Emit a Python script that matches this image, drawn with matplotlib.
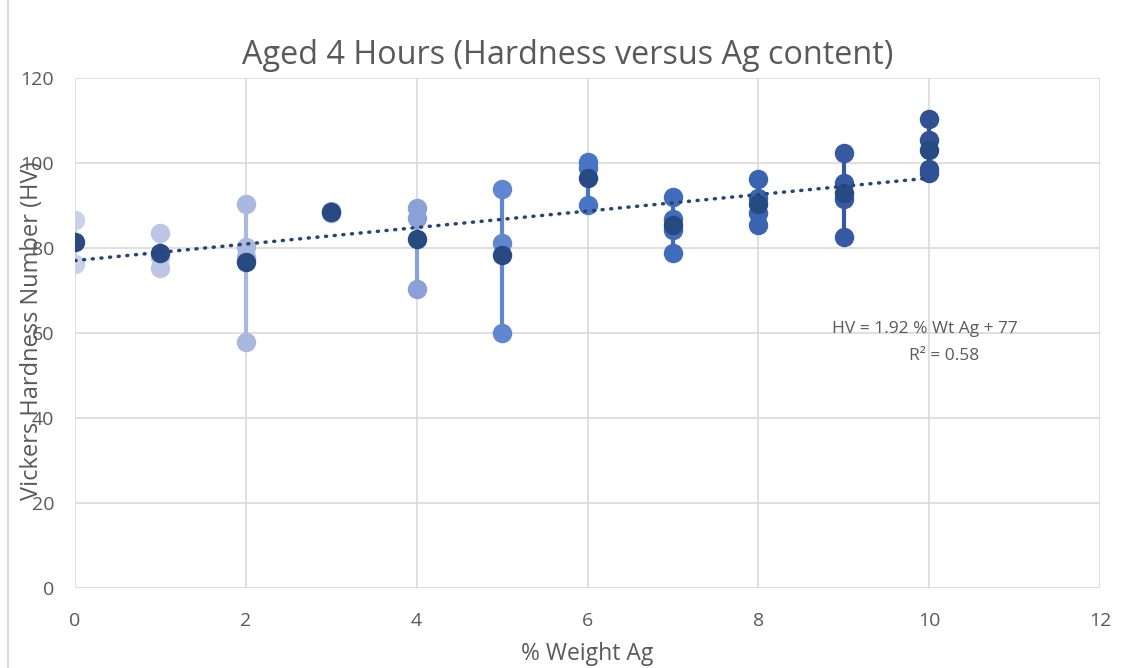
import numpy as np
import matplotlib
matplotlib.use('Agg')
import matplotlib.pyplot as plt
from matplotlib.lines import Line2D

plt.rcParams['font.family'] = ['Open Sans', 'DejaVu Sans']

# hardness readings per Ag content
ag_pct = [0, 1, 2, 3, 4, 5, 6, 7, 8, 9, 10]
hv_readings = [
    [86.5, 76.3],
    [83.5, 78.0, 75.2],
    [90.4, 80.3, 78.0, 57.9],
    [88.8, 88.2],
    [89.3, 87.0, 70.3],
    [94.0, 81.2, 60.1],
    [100.2, 98.8, 90.1],
    [92.1, 86.8, 84.2, 78.8],
    [96.2, 91.8, 88.2, 85.4],
    [102.4, 95.2, 91.5, 82.7],
    [110.4, 105.4, 98.5, 97.7],
]
group_colors = ['#c9d1e9', '#bcc6e4', '#aab8df', '#9aace0', '#8ba0d6', '#5f86cf',
                '#4874c6', '#416cbb', '#3b64b0', '#3659a1', '#305194']
mean_color = '#284a82'

fig = plt.figure(figsize=(11.21, 6.68), dpi=100)
ax = fig.add_axes([0.0669, 0.1198, 0.9144, 0.7634])

means = []
for x, vals, c in zip(ag_pct, hv_readings, group_colors):
    v = sorted(vals)
    ax.plot([x] * len(v), v, '-o', color=c, lw=3, ms=13, zorder=3)
    m = np.mean(vals)
    means.append(m)
    ax.plot([x], [m], 'o', color=mean_color, ms=13, zorder=4)

slope, icpt = np.polyfit(ag_pct, means, 1)
xt = np.array([0, 10])
ax.plot(xt, slope * xt + icpt, color='#264478', lw=2.5,
        linestyle=(0, (0.3, 2.2)), dash_capstyle='round', zorder=5)

ax.text(9.95, 61.0, 'HV = 1.92 % Wt Ag + 77', ha='center', va='center',
        fontsize=12.5, color='#595959')
ax.text(10.18, 54.5, 'R² = 0.58', ha='center', va='center',
        fontsize=12.5, color='#595959')

ax.set_xlim(0, 12)
ax.set_ylim(0, 120)
ax.set_xticks(range(0, 13, 2))
ax.set_yticks(range(0, 121, 20))
ax.grid(True, color='#d9d9d9', lw=1.2)
ax.set_axisbelow(True)
for s in ax.spines.values():
    s.set_visible(False)
ax.tick_params(length=0, labelsize=14, colors='#595959')
ax.tick_params(axis='x', pad=17)
ax.tick_params(axis='y', pad=15)

ax.set_title('Aged 4 Hours (Hardness versus Ag content)', fontsize=23.3,
             color='#595959', pad=10, x=0.481)
ax.set_xlabel('% Weight Ag', fontsize=16.5, color='#595959', labelpad=9)
fig.text(0.0285, 0.505, 'Vickers Hardness Number (HV)', rotation=90,
         ha='center', va='center', fontsize=17, color='#595959')

# chart area border on the left
fig.add_artist(Line2D([0.0075, 0.0075], [0, 1], transform=fig.transFigure,
                      color='#d9d9d9', lw=1.5))

fig.savefig('out.png', dpi=100)
